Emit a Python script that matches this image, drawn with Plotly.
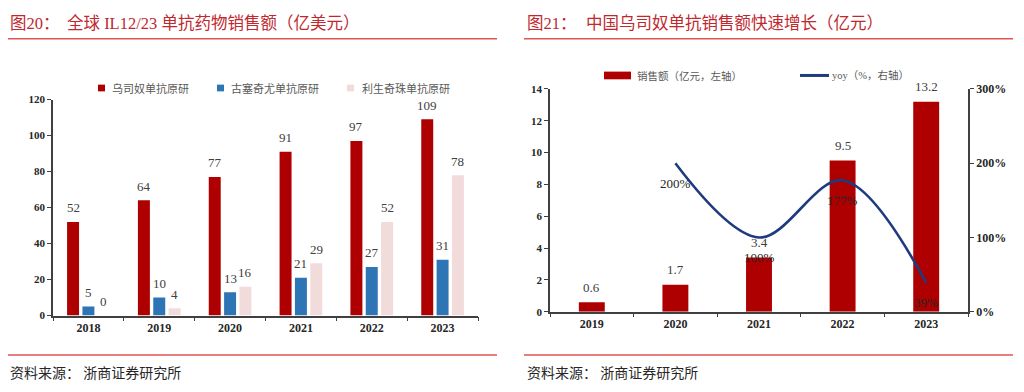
import plotly.graph_objects as go

# ---------------- data ----------------
years_left = ["2018", "2019", "2020", "2021", "2022", "2023"]
ustekinumab_global = [52, 64, 77, 91, 97, 109]
guselkumab_global = [5, 10, 13, 21, 27, 31]
risankizumab_global = [0, 4, 16, 29, 52, 78]
left_series_names = ["乌司奴单抗原研", "古塞奇尤单抗原研", "利生奇珠单抗原研"]

years_right = ["2019", "2020", "2021", "2022", "2023"]
china_sales = [0.6, 1.7, 3.4, 9.5, 13.2]
yoy_years = ["2020", "2021", "2022", "2023"]
yoy_pct = [200, 100, 177, 39]
right_series_names = ["销售额（亿元，左轴）", "yoy（%，右轴）"]

title_left_num = "图20："
title_left = "全球 IL12/23 单抗药物销售额（亿美元）"
title_right_num = "图21："
title_right = "中国乌司奴单抗销售额快速增长（亿元）"
source_text = "资料来源： 浙商证券研究所"

# ---------------- styles ----------------
W, H = 1024, 392
def px(x):
    return x / W
def py(y):
    return 1 - y / H

RED = "#AE0000"
BLUE = "#2E75B6"
PINK = "#F2DCDB"
NAVY = "#1F3B80"
TITLE_RED = "#C0282E"
RULE_RED = "#E05555"
AXIS = "#404040"
SERIF = "Liberation Serif, Noto Sans CJK SC"
CJK = "Noto Sans CJK SC"

BARGAP = 0.35
BARGROUPGAP = 0.22

fig = go.Figure()

left_vals = [ustekinumab_global, guselkumab_global, risankizumab_global]
left_cols = [RED, BLUE, PINK]
for name, vals, col in zip(left_series_names, left_vals, left_cols):
    fig.add_trace(go.Bar(x=years_left, y=vals, name=name, marker_color=col,
                         marker_line_width=0, xaxis="x", yaxis="y", showlegend=False))

fig.add_trace(go.Bar(x=years_right, y=china_sales, name=right_series_names[0],
                     marker_color=RED, marker_line_width=0, width=0.31,
                     xaxis="x2", yaxis="y2", showlegend=False))
fig.add_trace(go.Scatter(x=yoy_years, y=yoy_pct, name=right_series_names[1], mode="lines",
                         line=dict(color=NAVY, width=2.6, shape="spline", smoothing=1.0),
                         xaxis="x2", yaxis="y3", showlegend=False))

annotations = []
shapes = []

# bar value labels (left) -- category axes take annotation x as category index
lx0, lx1 = 53, 478
cat_w = (lx1 - lx0) / len(years_left)
slot = (1 - BARGAP) / 3
for i, vals in enumerate(left_vals):
    for j, v in enumerate(vals):
        annotations.append(dict(x=j, y=v, xref="x", yref="y", text=str(v), showarrow=False,
                                xshift=(i - 1) * slot * cat_w, yshift=14, yanchor="middle",
                                font=dict(family=SERIF, size=13, color=AXIS)))
# bar value labels (right)
for j, v in enumerate(china_sales):
    annotations.append(dict(x=j, y=v, xref="x2", yref="y2", text=f"{v:.1f}", showarrow=False,
                            yshift=15, yanchor="middle",
                            font=dict(family=SERIF, size=13, color=AXIS)))
# yoy labels
for yr, v in zip(yoy_years, yoy_pct):
    annotations.append(dict(x=years_right.index(yr), y=v, xref="x2", yref="y3", text=f"{v}%",
                            showarrow=False, yshift=-20, yanchor="middle",
                            font=dict(family=SERIF, size=13, color="#262626")))

# titles
for x0, txt in [(8, title_left_num), (65, title_left), (525, title_right_num), (584, title_right)]:
    annotations.append(dict(x=px(x0), y=py(17), xref="paper", yref="paper", text=txt,
                            showarrow=False, xanchor="left", yanchor="middle",
                            font=dict(family=SERIF, size=16.5, color=TITLE_RED)))
# sources
for x0 in (8, 525):
    annotations.append(dict(x=px(x0), y=py(378), xref="paper", yref="paper", text=source_text,
                            showarrow=False, xanchor="left", yanchor="middle",
                            font=dict(family=CJK, size=14, color="#262626")))
# rules
for (a, b) in [(8, 497), (524, 1013)]:
    for yy in (33, 361):
        shapes.append(dict(type="line", xref="paper", yref="paper", x0=px(a), x1=px(b),
                           y0=py(yy), y1=py(yy), line=dict(color=RULE_RED, width=1.5)))

# manual legends
for (sx, tx), name, col in zip([(98, 110), (217, 229), (347, 360)], left_series_names, left_cols):
    shapes.append(dict(type="rect", xref="paper", yref="paper", x0=px(sx), x1=px(sx + 7),
                       y0=py(87.5), y1=py(80.5), fillcolor=col, line=dict(width=0)))
    annotations.append(dict(x=px(tx), y=py(84), xref="paper", yref="paper", text=name,
                            showarrow=False, xanchor="left", yanchor="middle",
                            font=dict(family=CJK, size=11, color="#595959")))
shapes.append(dict(type="rect", xref="paper", yref="paper", x0=px(604), x1=px(631),
                   y0=py(75), y1=py(67), fillcolor=RED, line=dict(width=0)))
annotations.append(dict(x=px(635), y=py(71), xref="paper", yref="paper", text=right_series_names[0],
                        showarrow=False, xanchor="left", yanchor="middle",
                        font=dict(family=CJK, size=10.5, color="#595959")))
shapes.append(dict(type="line", xref="paper", yref="paper", x0=px(800), x1=px(829),
                   y0=py(71), y1=py(71), line=dict(color=NAVY, width=3)))
annotations.append(dict(x=px(830), y=py(71), xref="paper", yref="paper", text=right_series_names[1],
                        showarrow=False, xanchor="left", yanchor="middle",
                        font=dict(family=SERIF, size=10.5, color="#595959")))

def tf(size):
    return dict(family="Liberation Serif", size=size, color="#262626", weight="bold")

axis_common = dict(showline=True, linecolor=AXIS, linewidth=1.5, ticks="outside", ticklen=4,
                   tickcolor=AXIS, tickwidth=1.2, showgrid=False, zeroline=False, fixedrange=True)

fig.update_layout(
    width=W, height=H, autosize=False,
    margin=dict(l=0, r=0, t=0, b=0),
    paper_bgcolor="white", plot_bgcolor="white",
    barmode="group", bargap=BARGAP, bargroupgap=BARGROUPGAP,
    showlegend=False,
    xaxis=dict(domain=[px(lx0), px(lx1)], anchor="y", type="category",
               categoryorder="array", categoryarray=years_left, range=[-0.5, len(years_left) - 0.5],
               tickson="boundaries", tickangle=0, tickfont=tf(12), **axis_common),
    yaxis=dict(domain=[py(320), py(96)], anchor="x", range=[0, 120], dtick=20,
               tickfont=tf(11), **axis_common),
    xaxis2=dict(domain=[px(550), px(968)], anchor="y2", type="category",
                categoryorder="array", categoryarray=years_right, range=[-0.5, len(years_right) - 0.5],
                tickson="boundaries", tickangle=0, tickfont=tf(12), **axis_common),
    yaxis2=dict(domain=[py(316), py(85)], anchor="x2", range=[0, 14], dtick=2,
                tickfont=tf(11), **axis_common),
    yaxis3=dict(overlaying="y2", anchor="x2", side="right", range=[0, 300], dtick=100,
                ticksuffix="%", tickfont=tf(12), **axis_common),
    annotations=annotations,
    shapes=shapes,
)

fig.write_html(
    "out.html",
    config={"displayModeBar": False},
    post_script="document.body.style.margin='0';document.body.style.padding='0';"
                "document.documentElement.style.overflow='hidden';",
)
